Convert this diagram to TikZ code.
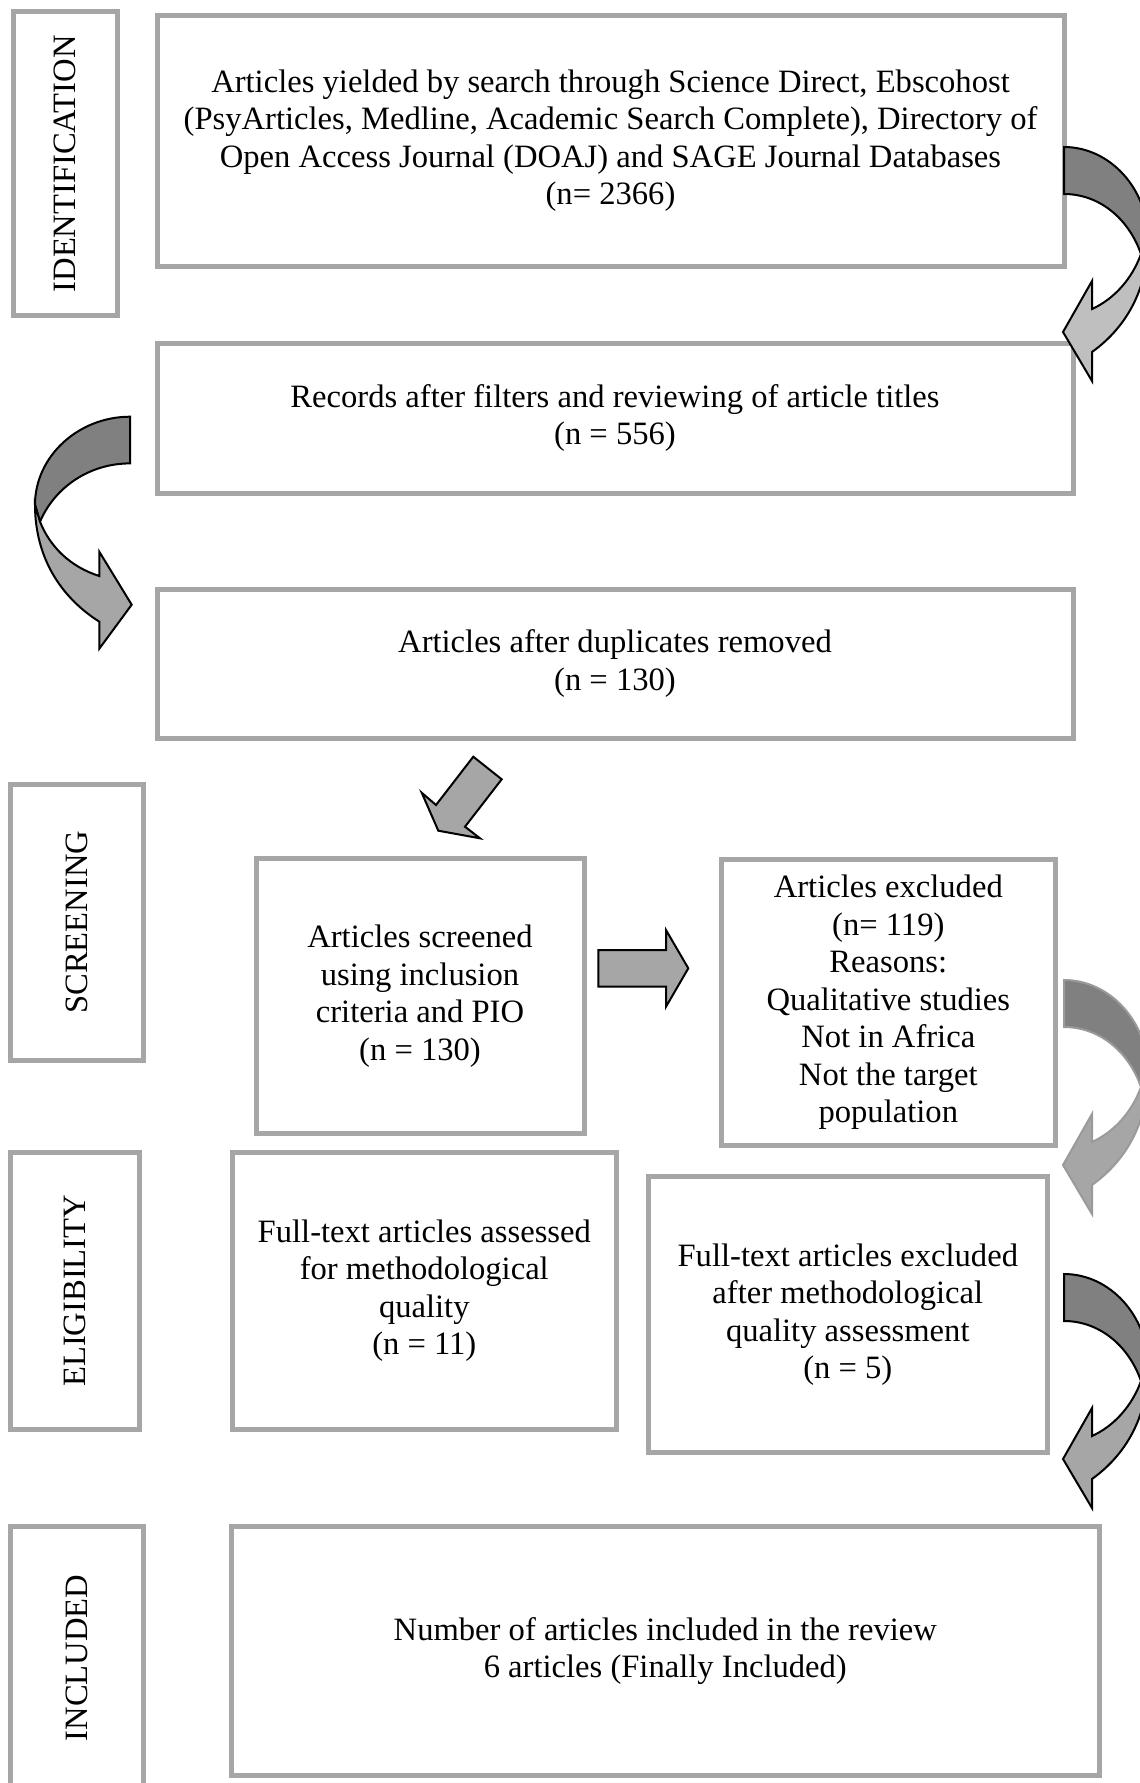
\documentclass[tikz,border=0pt]{standalone}
\usepackage{fontspec}
\setmainfont{Liberation Serif}
\definecolor{boxgray}{HTML}{A6A6A6}
\definecolor{darkband}{HTML}{808080}
\definecolor{lightband}{HTML}{A6A6A6}
\definecolor{paleband}{HTML}{BFBFBF}
\definecolor{softline}{HTML}{9A9A9A}
\tikzset{
  frame/.style={draw=boxgray, line width=2.5pt, fill=white, align=center, inner sep=0pt,
    font=\fontsize{16.3}{18.75}\selectfont},
  lbl/.style={frame, rotate=90},
  sz/.style 2 args={minimum width=#1*0.5pt, minimum height=#2*0.5pt},
  blockarrow/.style={fill=lightband, draw=black, line width=1pt, line join=miter},
}
\newcommand{\rcurve}[4]{%
  \begin{scope}[shift={#1}]
    \fill[#3, draw=#2, line width=1pt] (0,0) .. controls (46,0) and (84,42) .. (84,92)
      -- (77,107) .. controls (64,70) and (34,47) .. (0,47) -- cycle;
    \fill[#4, draw=#2, line width=1pt] (84,92) .. controls (84,145) and (60,182) .. (28,205)
      -- (28,234) -- (-1,185) -- (28,134) -- (28,162)
      .. controls (50,152) and (68,132) .. (77,107) -- cycle;
  \end{scope}}
\begin{document}
\begin{tikzpicture}[x=0.5pt,y=-0.5pt]
\useasboundingbox (0,0) rectangle (1140,1783);
\clip (0,0) rectangle (1140,1783);

% stage labels
\node[lbl, sz={304.3}{104}] (idl) at (65,163.8) {IDENTIFICATION};
\node[lbl, sz={275.5}{132.8}] (scl) at (77.1,922.3) {SCREENING};
\node[lbl, sz={276.5}{128.3}] (ell) at (74.9,1290.8) {ELIGIBILITY};
\node[lbl, sz={263}{132.8}] (inl) at (77.1,1658) {INCLUDED};

% boxes
\node[frame, sz={907}{251}] (b1) at (610.5,140.5)
  {Articles yielded by search through Science Direct, Ebscohost\\
   (PsyArticles, Medline, Academic Search Complete), Directory of\\
   Open Access Journal (DOAJ) and SAGE Journal Databases\\
   (n= 2366)};
\node[frame, sz={916}{150}] (b2) at (615,418)
  {Records after filters and reviewing of article titles\\(n = 556)};
\node[frame, sz={916}{149}] (b3) at (615,663.5)
  {Articles after duplicates removed\\(n = 130)};
\node[frame, sz={328}{275}] (scr) at (420,996)
  {Articles screened\\using inclusion\\criteria and PIO\\(n = 130)};
\node[frame, sz={334.5}{286.5}] (exc) at (888.3,1002.3)
  {Articles excluded\\(n= 119)\\Reasons:\\Qualitative studies\\Not in Africa\\Not the target\\population};
\node[frame, sz={384.5}{276.5}] (ass) at (424.3,1290.8)
  {Full-text articles assessed\\for methodological\\quality\\(n = 11)};
\node[frame, sz={399.5}{276}] (exa) at (847.8,1314.5)
  {Full-text articles excluded\\after methodological\\quality assessment\\(n = 5)};
\node[frame, sz={867.5}{249}] (inc) at (665.3,1651)
  {Number of articles included in the review\\6 articles (Finally Included)};

% curved arrows on the right
\rcurve{(1064,147)}{black}{darkband}{paleband}
\rcurve{(1064,980)}{softline}{darkband}{lightband}
\rcurve{(1064,1274)}{black}{darkband}{lightband}

% curved arrow on the left
\begin{scope}[shift={(130,416.7)}, xscale=-1]
  \fill[darkband, draw=black, line width=1pt] (0,0) .. controls (52,0) and (95,40) .. (95,88)
    -- (90,105) .. controls (75,70) and (40,46.7) .. (0,46.7) -- cycle;
  \fill[lightband, draw=black, line width=1pt] (95,88) .. controls (95,140) and (70,180) .. (30.7,205)
    -- (30.7,232) -- (-1.7,188) -- (30.7,135) -- (30.7,159.3)
    .. controls (60,150) and (80,130) .. (90,105) -- cycle;
\end{scope}

% straight block arrows
\draw[blockarrow] (438.3,830.7) -- (421.7,792.7) -- (436,805) -- (473.3,756.7)
  -- (501.7,779.3) -- (465,826.7) -- (480,838.3) -- cycle;
\draw[blockarrow] (598.3,950) -- (666,950) -- (666,930) -- (688.3,968.3)
  -- (666,1006.7) -- (666,986.7) -- (598.3,986.7) -- cycle;
\end{tikzpicture}
\end{document}
